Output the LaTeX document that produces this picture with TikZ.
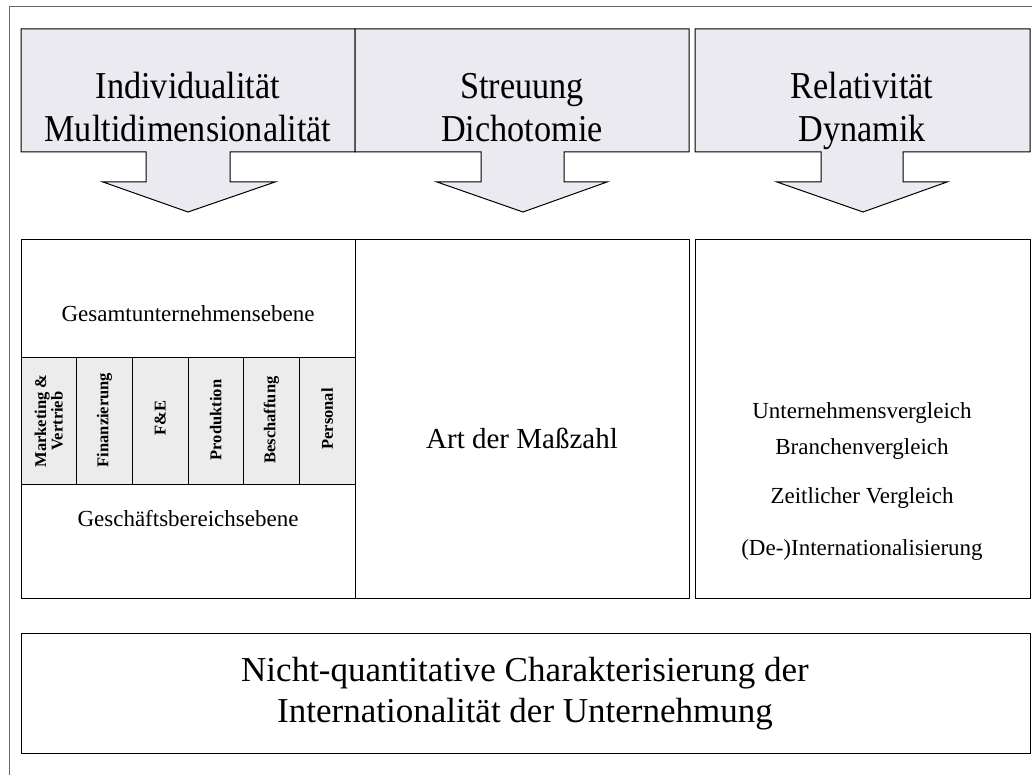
\documentclass[tikz,border=0pt]{standalone}
\usepackage{fontspec}
\setmainfont{Liberation Serif}
\newfontfamily\narrowserif{Liberation Serif}[FakeStretch=0.9]
\definecolor{headfill}{RGB}{234,234,240}
\definecolor{colfill}{RGB}{236,236,236}
\begin{document}
\begin{tikzpicture}[x=1pt,y=-1pt,
  frameline/.style={draw=black!60,line width=1pt},
  callout/.style={draw=black,line width=1pt,fill=headfill,line join=miter},
  boxline/.style={draw=black,line width=1pt},
  colbox/.style={draw=black,line width=0.8pt,fill=colfill},
  headtext/.style={font=\narrowserif\fontsize{38}{43}\selectfont,align=center,inner sep=0pt},
  bigtext/.style={font=\fontsize{35}{41}\selectfont,align=center,inner sep=0pt},
  midtext/.style={font=\fontsize{29}{34}\selectfont,inner sep=0pt},
  leveltext/.style={font=\fontsize{23}{27}\selectfont,inner sep=0pt},
  cmptext/.style={font=\fontsize{23}{27}\selectfont,inner sep=0pt},
  coltext/.style={font=\bfseries\fontsize{16.5}{16.5}\selectfont,align=center,rotate=90,inner sep=0pt}
]
\useasboundingbox (0,0) rectangle (1032,775);
\fill[white] (0,0) rectangle (1032,775);
% outer frame
\draw[frameline] (9,775) -- (9,7) -- (1032,7);

% callout boxes
\draw[callout] (21,29) -- (355,29) -- (355,152) -- (230,152) -- (230,182) -- (275,182)
  -- (188,212) -- (103,182) -- (146,182) -- (146,152) -- (21,152) -- cycle;
\draw[callout] (355,29) -- (689,29) -- (689,152) -- (564,152) -- (564,182) -- (607,182)
  -- (523,212) -- (437,182) -- (481,182) -- (481,152) -- (355,152) -- cycle;
\draw[callout] (695,29) -- (1030,29) -- (1030,152) -- (903,152) -- (903,182) -- (947,182)
  -- (863,212) -- (777,182) -- (821,182) -- (821,152) -- (695,152) -- cycle;
\node[headtext] (h1) at (188,111) {Individualität\strut\\Multidimensionalität\strut};
\node[headtext] (h2) at (522,111) {Streuung\strut\\Dichotomie\strut};
\node[headtext] (h3) at (862,111) {Relativität\strut\\Dynamik\strut};

% panels
\draw[boxline] (21,240) rectangle (355,598);
\draw[boxline] (355,240) rectangle (689,598);
\draw[boxline] (695,240) rectangle (1030,598);

% function columns
\foreach \i in {0,...,5}{
  \draw[colbox] ({21+\i*55.667},357) rectangle ({21+(\i+1)*55.667},484);
}
\node[coltext] (c1) at (48.8,421) {Marketing \&\\Vertrieb};
\node[coltext] (c2) at (104.5,420) {Finanzierung};
\node[coltext] (c3) at (160.2,418) {F\&E};
\node[coltext] (c4) at (215.8,420) {Produktion};
\node[coltext] (c5) at (271.5,420) {Beschaffung};
\node[coltext] (c6) at (327.2,419) {Personal};

\node[leveltext] (g1) at (188,314) {Gesamtunternehmensebene};
\node[leveltext] (g2) at (188,519) {Geschäftsbereichsebene};

\node[midtext] (art) at (522,438) {Art der Maßzahl};

\node[cmptext] (r1) at (862,413) {Unternehmensvergleich};
\node[cmptext] (r2) at (862,449) {Branchenvergleich};
\node[cmptext] (r3) at (862,498) {Zeitlicher Vergleich};
\node[cmptext] (r4) at (862,550) {(De-)Internationalisierung};

% bottom box
\draw[boxline] (21,633) rectangle (1030,753);
\node[bigtext] (bot) at (525,694) {Nicht-quantitative Charakterisierung der\\Internationalität der Unternehmung};
\end{tikzpicture}
\end{document}
